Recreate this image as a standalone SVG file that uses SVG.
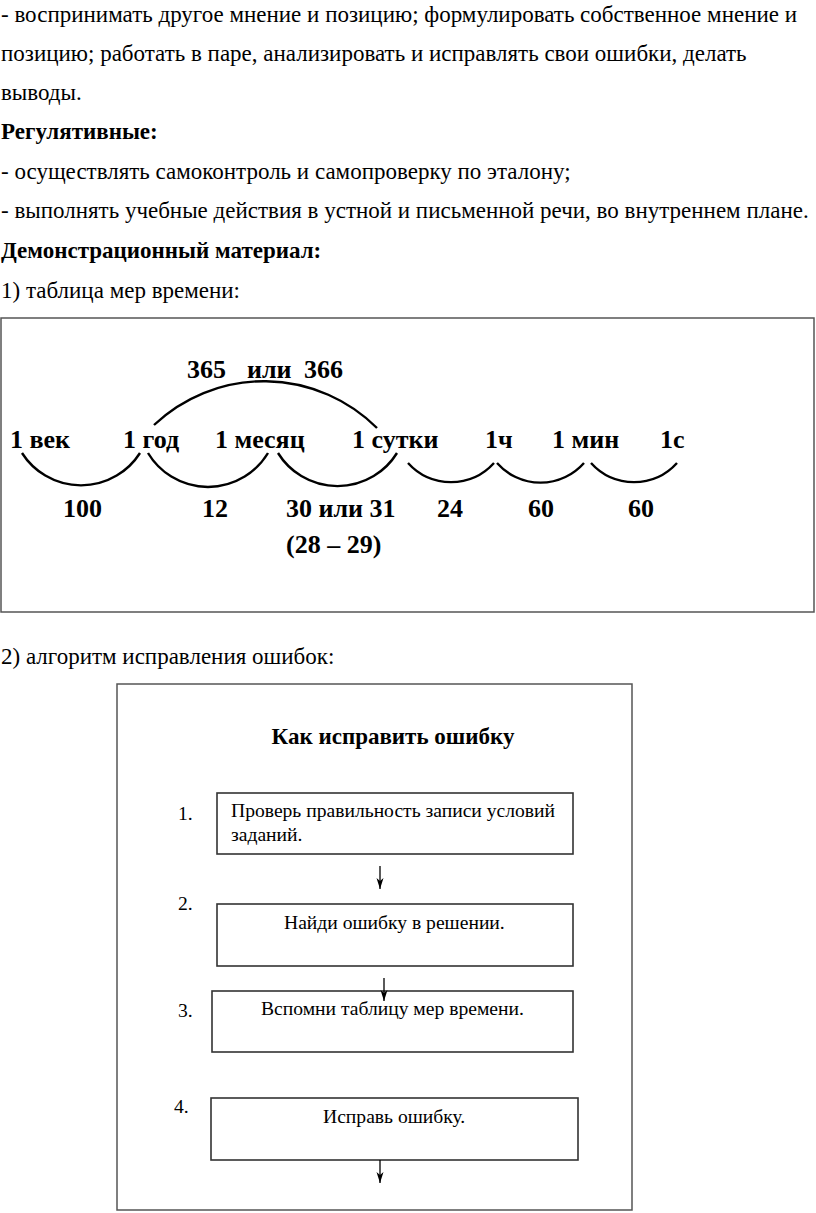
<svg xmlns="http://www.w3.org/2000/svg" width="816" height="1213" viewBox="0 0 816 1213">
<style>
  .body { font-family: "Liberation Serif", "Times New Roman", serif; font-size: 23px; fill: #000; }
  .bold { font-weight: bold; }
  .lbl { font-family: "Liberation Serif", "Times New Roman", serif; font-size: 26px; font-weight: bold; fill: #000; }
  .fc { font-family: "Liberation Serif", "Times New Roman", serif; font-size: 19.6px; fill: #000; }
  .frame { fill: none; stroke: #555; stroke-width: 1.5; }
  .box { fill: #fff; stroke: #333; stroke-width: 1.6; }
  .arc { fill: none; stroke: #000; stroke-width: 2.4; }
  .conn { stroke: #000; stroke-width: 1.3; fill: none; }
</style>
<defs>
  <marker id="ah" markerUnits="userSpaceOnUse" markerWidth="12" markerHeight="8" refX="11" refY="3.5" orient="auto" viewBox="0 0 12 7">
    <path d="M0,0 L11,3.5 L0,7 L3,3.5 Z" fill="#000"/>
  </marker>
</defs>
<rect width="816" height="1213" fill="#fff"/>

<g id="intro-text">
  <text class="body" x="1" y="22">- воспринимать другое мнение и позицию; формулировать собственное мнение и</text>
  <text class="body" x="1" y="61">позицию; работать в паре, анализировать и исправлять свои ошибки, делать</text>
  <text class="body" x="1" y="100">выводы.</text>
  <text class="body bold" x="1" y="139">Регулятивные:</text>
  <text class="body" x="1" y="179">- осуществлять самоконтроль и самопроверку по эталону;</text>
  <text class="body" x="1" y="218">- выполнять учебные действия в устной и письменной речи, во внутреннем плане.</text>
  <text class="body bold" x="1" y="258">Демонстрационный материал:</text>
  <text class="body" x="1" y="298">1) таблица мер времени:</text>
  <text class="body" x="1" y="664">2) алгоритм исправления ошибок:</text>
</g>

<g id="time-table">
  <rect class="frame" x="1" y="318" width="813" height="294"/>
  <g id="top-label">
    <text class="lbl" x="187" y="378">365</text>
    <text class="lbl" x="247" y="378">или</text>
    <text class="lbl" x="304" y="378">366</text>
  </g>
  <g id="units">
    <text class="lbl" x="10" y="448">1 век</text>
    <text class="lbl" x="123" y="448">1 год</text>
    <text class="lbl" x="215" y="448">1 месяц</text>
    <text class="lbl" x="352" y="448">1 сутки</text>
    <text class="lbl" x="485" y="448">1ч</text>
    <text class="lbl" x="552" y="448">1 мин</text>
    <text class="lbl" x="660" y="448">1с</text>
  </g>
  <g id="factors">
    <text class="lbl" x="63" y="517">100</text>
    <text class="lbl" x="202" y="517">12</text>
    <text class="lbl" x="286" y="517">30 или 31</text>
    <text class="lbl" x="286" y="553">(28 – 29)</text>
    <text class="lbl" x="437" y="517">24</text>
    <text class="lbl" x="528" y="517">60</text>
    <text class="lbl" x="628" y="517">60</text>
  </g>
  <g id="arcs">
    <path class="arc" d="M154,425 A160,160 0 0 1 377,428"/>
    <path class="arc" d="M22,453 A70,70 0 0 0 140,453"/>
    <path class="arc" d="M148,453 A70,70 0 0 0 268,453"/>
    <path class="arc" d="M278,453 A70,70 0 0 0 397,453"/>
    <path class="arc" d="M408,463 A58,58 0 0 0 494,463"/>
    <path class="arc" d="M497,463 A58,58 0 0 0 584,463"/>
    <path class="arc" d="M591,463 A58,58 0 0 0 677,463"/>
  </g>
</g>

<g id="algorithm">
  <rect class="frame" x="117" y="684" width="515" height="526"/>
  <text class="body bold" x="393" y="744" text-anchor="middle">Как исправить ошибку</text>

  <g id="step1">
    <text class="fc" x="178" y="820">1.</text>
    <rect class="box" x="217" y="793" width="356" height="61"/>
    <text class="fc" x="231" y="817">Проверь правильность записи условий</text>
    <text class="fc" x="231" y="841">заданий.</text>
  </g>
  <g id="step2">
    <text class="fc" x="178" y="910">2.</text>
    <rect class="box" x="217" y="904" width="356" height="62"/>
    <text class="fc" x="284" y="929">Найди ошибку в решении.</text>
  </g>
  <g id="step3">
    <text class="fc" x="178" y="1017">3.</text>
    <rect class="box" x="212" y="991" width="361" height="61"/>
    <text class="fc" x="261" y="1015">Вспомни таблицу мер времени.</text>
  </g>
  <g id="step4">
    <text class="fc" x="174" y="1113">4.</text>
    <rect class="box" x="211" y="1098" width="367" height="62"/>
    <text class="fc" x="323" y="1123">Исправь ошибку.</text>
  </g>
</g>

<g id="connectors">
  <line class="conn" x1="380" y1="866" x2="380" y2="889" marker-end="url(#ah)"/>
  <line class="conn" x1="384" y1="978" x2="384" y2="1001" marker-end="url(#ah)"/>
  <line class="conn" x1="380" y1="1160" x2="380" y2="1183" marker-end="url(#ah)"/>
</g>
</svg>
